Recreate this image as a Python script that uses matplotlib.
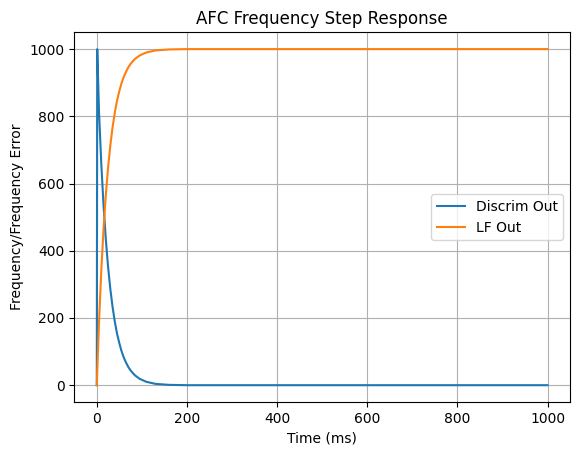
import matplotlib
matplotlib.use("Agg")
import matplotlib.pyplot as plt

# Time samples (ms) and values
time_ms = [0, 1, 5, 10, 15, 20, 25, 30, 35, 40, 45, 50, 55, 60, 65, 70, 75,
           80, 85, 90, 95, 100, 110, 120, 130, 140, 150, 160, 180, 200, 300,
           400, 500, 600, 700, 800, 900, 1000]
discrim_out = [0, 1000, 812, 659, 535, 435, 353, 287, 233, 189, 153, 125, 101,
               82, 67, 54, 44, 36, 29, 24, 19, 16, 10, 7, 4, 3, 2, 1, 0.5, 0,
               0, 0, 0, 0, 0, 0, 0, 0]
lf_out = [0, 40, 188, 341, 465, 565, 647, 713, 767, 811, 847, 875, 899, 918,
          933, 946, 956, 964, 971, 976, 981, 984, 990, 993, 996, 997, 998,
          999, 999.5, 1000, 1000, 1000, 1000, 1000, 1000, 1000, 1000, 1000]

fig = plt.figure(figsize=(5.8, 4.55), dpi=100)
ax = fig.add_subplot(111)
fig.subplots_adjust(left=0.128, right=0.983, top=0.929, bottom=0.1165)

ax.plot(time_ms, discrim_out, label="Discrim Out")
ax.plot(time_ms, lf_out, label="LF Out")
ax.set_title("AFC Frequency Step Response")
ax.set_xlabel("Time (ms)")
ax.set_ylabel("Frequency/Frequency Error")
ax.grid(True)
ax.legend(loc="center right")

fig.savefig("out.png", dpi=100)
